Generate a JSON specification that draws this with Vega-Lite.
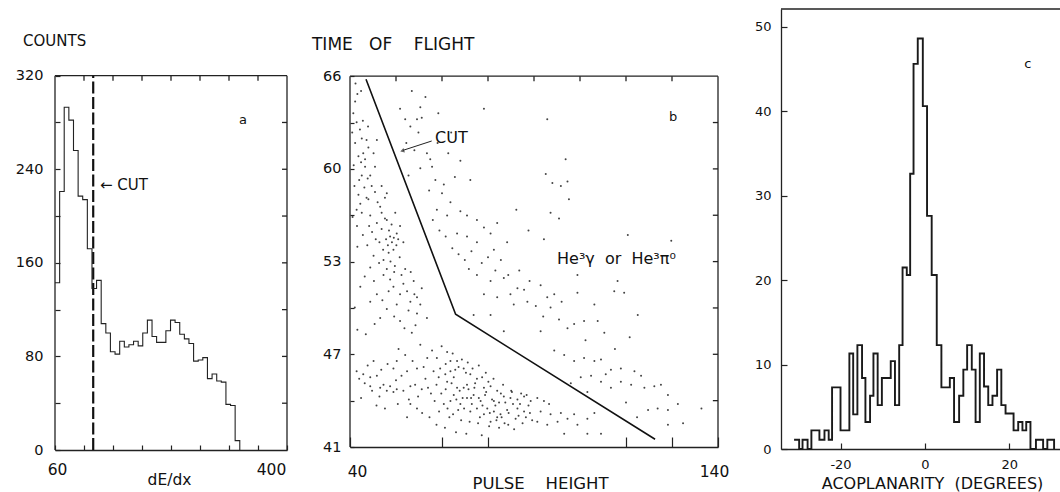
{
  "$schema": "https://vega.github.io/schema/vega-lite/v6.json",
  "background": "white",
  "padding": {"left": 15, "top": 8, "right": 0, "bottom": 0},
  "bounds": "flush",
  "spacing": 63,
  "config": {
    "view": {"stroke": null},
    "font": "DejaVu Sans",
    "axis": {"grid": false, "domainColor": "#222", "domainWidth": 1.3, "tickColor": "#222", "tickWidth": 1.2, "labelColor": "#111", "titleColor": "#111", "labelFont": "DejaVu Sans", "titleFont": "DejaVu Sans", "titleFontWeight": "normal", "labelOverlap": false, "labelFlush": false}
  },
  "hconcat": [
    {
      "width": 232,
      "height": 441,
      "encoding": {
        "x": {"field": "x", "type": "quantitative", "scale": {"domain": [60, 400], "nice": false, "zero": false},
          "axis": {"values": [60, 102.5, 145, 187.5, 230, 272.5, 315, 357.5, 400], "labelExpr": "datum.value == 60 || datum.value == 400 ? datum.label : ''", "tickSize": -5, "labelPadding": 29, "labelBaseline": "alphabetic", "labelFontSize": 15.5, "labelOffset": {"condition": {"test": "datum.value == 400", "value": -16}, "value": 2}, "title": "dE/dx", "titleFontSize": 15.5, "titleX": 114, "titleY": 34, "titleBaseline": "alphabetic"}},
        "y": {"field": "y", "type": "quantitative", "scale": {"domain": [0, 377], "nice": false, "zero": false},
          "axis": {"values": [0, 40, 80, 120, 160, 200, 240, 280, 320], "labelExpr": "datum.value % 80 == 0 ? datum.label : ''", "domain": false, "tickSize": -5, "labelPadding": 17, "labelFontSize": 14.5, "title": null}}
      },
      "layer": [
        {
          "data": {"values": [
            {"x": 60, "y": 0, "x2": 60, "y2": 320},
            {"x": 400, "y": 0, "x2": 400, "y2": 320},
            {"x": 60, "y": 320, "x2": 400, "y2": 320},
            {"x": 102.5, "y": 320, "x2": 102.5, "y2": 315.7},
            {"x": 145, "y": 320, "x2": 145, "y2": 315.7},
            {"x": 187.5, "y": 320, "x2": 187.5, "y2": 315.7},
            {"x": 230, "y": 320, "x2": 230, "y2": 315.7},
            {"x": 272.5, "y": 320, "x2": 272.5, "y2": 315.7},
            {"x": 315, "y": 320, "x2": 315, "y2": 315.7},
            {"x": 357.5, "y": 320, "x2": 357.5, "y2": 315.7},
            {"x": 392.7, "y": 40, "x2": 400, "y2": 40},
            {"x": 392.7, "y": 80, "x2": 400, "y2": 80},
            {"x": 392.7, "y": 120, "x2": 400, "y2": 120},
            {"x": 392.7, "y": 160, "x2": 400, "y2": 160},
            {"x": 392.7, "y": 200, "x2": 400, "y2": 200},
            {"x": 392.7, "y": 240, "x2": 400, "y2": 240},
            {"x": 392.7, "y": 280, "x2": 400, "y2": 280}
          ]},
          "mark": {"type": "rule", "color": "#222", "strokeWidth": 1.3},
          "encoding": {"x2": {"field": "x2"}, "y2": {"field": "y2"}}
        },
        {
          "data": {"values": [{"x": 116, "y": 0, "x2": 116, "y2": 320}]},
          "mark": {"type": "rule", "color": "#111", "strokeWidth": 2.2, "strokeDash": [12, 3.5]},
          "encoding": {"x2": {"field": "x2"}, "y2": {"field": "y2"}}
        },
        {
          "data": {"values": [
            {"x": 60, "y": 143}, {"x": 66.8, "y": 221}, {"x": 73.5, "y": 293}, {"x": 80.3, "y": 282},
            {"x": 87.1, "y": 256}, {"x": 93.9, "y": 217}, {"x": 100.6, "y": 214}, {"x": 107.4, "y": 172},
            {"x": 114.2, "y": 138}, {"x": 120.9, "y": 145}, {"x": 127.7, "y": 108}, {"x": 134.5, "y": 100},
            {"x": 141.2, "y": 84}, {"x": 148, "y": 82}, {"x": 154.8, "y": 93}, {"x": 161.6, "y": 88},
            {"x": 168.3, "y": 90}, {"x": 175.1, "y": 93}, {"x": 181.9, "y": 89}, {"x": 188.6, "y": 100},
            {"x": 195.4, "y": 111}, {"x": 202.2, "y": 97}, {"x": 208.9, "y": 92}, {"x": 215.7, "y": 92},
            {"x": 222.5, "y": 102}, {"x": 229.3, "y": 111}, {"x": 236, "y": 109}, {"x": 242.8, "y": 99},
            {"x": 249.6, "y": 95}, {"x": 256.3, "y": 91}, {"x": 263.1, "y": 76}, {"x": 269.9, "y": 77},
            {"x": 276.6, "y": 79}, {"x": 283.4, "y": 61}, {"x": 290.2, "y": 65}, {"x": 297, "y": 59},
            {"x": 303.7, "y": 58}, {"x": 310.5, "y": 39}, {"x": 317.3, "y": 38}, {"x": 324, "y": 8},
            {"x": 330.8, "y": 0}
          ]},
          "mark": {"type": "line", "interpolate": "step-after", "color": "#222", "strokeWidth": 1.1}
        },
        {
          "data": {"values": [{"x": 125.9, "y": 222.5, "text": "← CUT"}, {"x": 13.1, "y": 345, "text": "COUNTS"}]},
          "mark": {"type": "text", "align": "left", "baseline": "alphabetic", "fontSize": 15, "color": "#111"},
          "encoding": {"text": {"field": "text"}}
        },
        {
          "data": {"values": [{"x": 335.5, "y": 278.7, "text": "a"}]},
          "mark": {"type": "text", "align": "center", "baseline": "alphabetic", "fontSize": 13, "color": "#111"},
          "encoding": {"text": {"field": "text"}}
        }
      ]
    },
    {
      "width": 368,
      "height": 438,
      "encoding": {
        "x": {"field": "x", "type": "quantitative", "scale": {"domain": [40, 140], "nice": false, "zero": false},
          "axis": {"values": [40, 65, 77.5, 115, 127.5, 140], "labelExpr": "datum.value == 40 || datum.value == 140 ? datum.label : ''", "tickSize": -10, "labelPadding": 39, "labelBaseline": "alphabetic", "labelFontSize": 15.5, "labelOffset": {"condition": {"test": "datum.value == 140", "value": -4}, "value": 7}, "title": "PULSE\u00a0\u00a0\u00a0 HEIGHT", "titleFontSize": 16.5, "titleX": 190, "titleY": 41, "titleBaseline": "alphabetic"}},
        "y": {"field": "y", "type": "quantitative", "scale": {"domain": [41, 70.53], "nice": false, "zero": false},
          "axis": {"values": [41, 44.125, 47.25, 50.375, 53.5, 56.625, 59.75, 62.875, 66], "labelExpr": "datum.value == 41 ? '41' : datum.value == 47.25 ? '47' : datum.value == 53.5 ? '53' : datum.value == 59.75 ? '60' : datum.value == 66 ? '66' : ''", "domain": false, "tickSize": -4, "labelPadding": 13, "labelFontSize": 14.5, "title": null}}
      },
      "layer": [
        {
          "data": {"values": [
            {"x": 40, "y": 41, "x2": 40, "y2": 66},
            {"x": 140, "y": 41, "x2": 140, "y2": 66},
            {"x": 40, "y": 66, "x2": 140, "y2": 66},
            {"x": 52.5, "y": 66, "x2": 52.5, "y2": 65.66},
            {"x": 65, "y": 66, "x2": 65, "y2": 65.66},
            {"x": 77.5, "y": 66, "x2": 77.5, "y2": 65.66},
            {"x": 90, "y": 66, "x2": 90, "y2": 65.66},
            {"x": 102.5, "y": 66, "x2": 102.5, "y2": 65.66},
            {"x": 115, "y": 66, "x2": 115, "y2": 65.66},
            {"x": 127.5, "y": 66, "x2": 127.5, "y2": 65.66},
            {"x": 138.6, "y": 44.125, "x2": 140, "y2": 44.125},
            {"x": 138.6, "y": 47.25, "x2": 140, "y2": 47.25},
            {"x": 138.6, "y": 50.375, "x2": 140, "y2": 50.375},
            {"x": 138.6, "y": 53.5, "x2": 140, "y2": 53.5},
            {"x": 138.6, "y": 56.625, "x2": 140, "y2": 56.625},
            {"x": 138.6, "y": 59.75, "x2": 140, "y2": 59.75},
            {"x": 138.6, "y": 62.875, "x2": 140, "y2": 62.875}
          ]},
          "mark": {"type": "rule", "color": "#222", "strokeWidth": 1.3},
          "encoding": {"x2": {"field": "x2"}, "y2": {"field": "y2"}}
        },
        {
          "data": {"values": [
            {"x":41.4,"y":64.3},{"x":41.8,"y":62.9},{"x":43.2,"y":61.8},{"x":43.6,"y":60.8},{"x":44.1,"y":60.4},{"x":45.5,"y":59.3},{"x":45.9,"y":58.6},{"x":46.8,"y":58.2},{"x":43.2,"y":59.3},{"x":42.3,"y":58.0},{"x":41.8,"y":57.0},{"x":43.2,"y":56.8},{"x":45.5,"y":56.6},{"x":47.3,"y":56.1},{"x":48.6,"y":56.8},{"x":50.0,"y":56.3},{"x":50.9,"y":55.2},{"x":51.4,"y":54.8},{"x":51.8,"y":54.3},{"x":50.5,"y":54.1},{"x":49.1,"y":53.6},{"x":46.4,"y":53.9},{"x":52.7,"y":55.4},{"x":52.3,"y":56.8},{"x":53.6,"y":55.9},{"x":54.5,"y":54.8},{"x":48.2,"y":57.2},{"x":44.1,"y":59.9},{"x":46.8,"y":59.9},{"x":44.5,"y":61.7},{"x":47.3,"y":61.7},{"x":42.3,"y":60.6},{"x":46.4,"y":60.8},{"x":48.6,"y":58.6},{"x":50.0,"y":58.1},{"x":45.0,"y":57.7},{"x":40.9,"y":63.5},{"x":42.7,"y":62.4},{"x":41.4,"y":61.5},{"x":45.0,"y":61.2},{"x":42.0,"y":64.8},{"x":43.5,"y":63.0},{"x":41.0,"y":60.0},{"x":42.5,"y":59.0},{"x":44.5,"y":57.8},{"x":47.5,"y":57.5},{"x":49.5,"y":57.8},{"x":46.0,"y":55.5},{"x":48.0,"y":54.8},{"x":49.8,"y":55.0},{"x":51.0,"y":53.5},{"x":52.2,"y":53.2},{"x":53.5,"y":53.8},{"x":55.0,"y":53.0},{"x":54.0,"y":52.6},{"x":56.5,"y":52.8},{"x":57.5,"y":51.3},{"x":52.0,"y":52.8},{"x":50.0,"y":53.0},
            {"x":40.6,"y":62.2},{"x":41.2,"y":58.6},{"x":41.9,"y":55.9},{"x":42.8,"y":57.4},{"x":43.9,"y":58.5},{"x":44.8,"y":59.1},{"x":43.0,"y":60.2},{"x":44.9,"y":62.6},{"x":41.5,"y":65.5},{"x":43.0,"y":65.0},{"x":40.7,"y":56.5},{"x":42.0,"y":54.5},{"x":43.5,"y":55.3},{"x":44.7,"y":54.6},{"x":45.2,"y":55.9},{"x":47.0,"y":55.0},{"x":47.9,"y":53.4},{"x":48.6,"y":55.7},{"x":49.5,"y":56.4},{"x":50.6,"y":55.6},{"x":51.3,"y":56.0},{"x":52.6,"y":54.6},{"x":53.1,"y":55.0},{"x":51.9,"y":55.1},{"x":50.3,"y":54.6},{"x":49.0,"y":54.3},{"x":44.0,"y":52.5},{"x":42.8,"y":51.8},{"x":46.5,"y":52.2},{"x":45.5,"y":50.8},{"x":48.8,"y":50.9},{"x":50.5,"y":51.5},{"x":50.0,"y":50.3},{"x":52.0,"y":49.8},{"x":54.8,"y":49.0},{"x":57.8,"y":49.2},{"x":46.7,"y":49.3},{"x":44.3,"y":48.6},{"x":42.0,"y":48.9},{"x":41.3,"y":50.4},
            {"x":53.6,"y":63.8},{"x":55.0,"y":63.1},{"x":59.1,"y":63.9},{"x":56.4,"y":62.6},{"x":58.6,"y":62.2},{"x":58.2,"y":63.1},{"x":59.5,"y":63.2},{"x":60.9,"y":60.8},{"x":62.3,"y":59.9},{"x":59.1,"y":59.8},{"x":55.9,"y":59.3},{"x":63.2,"y":59.0},{"x":65.5,"y":58.7},{"x":67.3,"y":57.5},{"x":70.0,"y":56.9},{"x":71.8,"y":56.6},{"x":74.5,"y":56.3},{"x":76.4,"y":55.8},{"x":78.2,"y":55.4},{"x":79.1,"y":54.3},{"x":74.5,"y":54.8},{"x":71.8,"y":55.2},{"x":66.4,"y":56.6},{"x":63.6,"y":57.0},{"x":69.1,"y":55.4},{"x":80.0,"y":56.1},{"x":82.7,"y":54.8},{"x":76.4,"y":63.8},{"x":61.8,"y":60.4},{"x":70.0,"y":60.3},{"x":72.7,"y":59.0},{"x":65.0,"y":58.1},{"x":56.8,"y":65.0},
            {"x":62.5,"y":56.3},{"x":64.3,"y":55.6},{"x":66.0,"y":55.2},{"x":67.8,"y":54.4},{"x":69.5,"y":54.0},{"x":71.2,"y":53.6},{"x":73.0,"y":54.2},{"x":75.8,"y":53.4},{"x":77.5,"y":53.8},{"x":79.5,"y":52.9},{"x":81.0,"y":53.6},{"x":83.0,"y":52.6},{"x":86.0,"y":52.9},{"x":88.8,"y":52.2},{"x":90.5,"y":50.5},{"x":92.5,"y":49.8},{"x":94.5,"y":50.4},{"x":97.5,"y":50.8},{"x":61.5,"y":58.3},{"x":63.8,"y":61.5},{"x":66.7,"y":60.8},{"x":68.5,"y":59.2},{"x":57.5,"y":61.0},{"x":55.3,"y":61.5},{"x":60.5,"y":64.6},{"x":64.0,"y":63.5},{"x":67.5,"y":62.2},{"x":85.2,"y":57.0},{"x":88.5,"y":55.6},
            {"x":93.6,"y":63.1},{"x":93.2,"y":59.4},{"x":95.0,"y":58.8},{"x":97.3,"y":58.6},{"x":99.1,"y":58.9},{"x":99.5,"y":57.7},{"x":94.5,"y":56.8},{"x":96.8,"y":56.4},{"x":92.7,"y":55.0},{"x":115.5,"y":55.3},{"x":127.3,"y":54.9},{"x":98.6,"y":60.4},
            {"x":50.9,"y":52.3},{"x":53.6,"y":51.3},{"x":55.5,"y":51.5},{"x":56.4,"y":50.8},{"x":58.2,"y":51.1},{"x":59.1,"y":50.6},{"x":55.9,"y":50.2},{"x":58.2,"y":50.0},{"x":59.5,"y":51.7},{"x":51.8,"y":51.8},{"x":54.5,"y":52.0},{"x":49.1,"y":52.6},{"x":57.3,"y":52.2},{"x":52.7,"y":50.6},{"x":60.9,"y":49.7},{"x":56.8,"y":48.7},{"x":53.6,"y":49.5},{"x":45.5,"y":53.1},{"x":48.2,"y":49.7},{"x":47.3,"y":51.3},
            {"x":62.3,"y":47.5},{"x":63.6,"y":47.0},{"x":66.4,"y":47.4},{"x":67.3,"y":46.8},{"x":69.1,"y":46.8},{"x":64.5,"y":46.3},{"x":67.3,"y":46.1},{"x":70.9,"y":46.3},{"x":72.7,"y":45.9},{"x":74.5,"y":45.6},{"x":71.8,"y":45.2},{"x":69.1,"y":45.0},{"x":66.4,"y":45.4},{"x":64.1,"y":45.7},{"x":76.4,"y":45.0},{"x":78.2,"y":45.1},{"x":80.0,"y":44.8},{"x":81.8,"y":44.4},{"x":83.6,"y":44.3},{"x":85.5,"y":44.2},{"x":87.3,"y":44.4},{"x":89.1,"y":44.1},{"x":73.6,"y":44.5},{"x":75.5,"y":44.1},{"x":77.3,"y":43.6},{"x":79.1,"y":43.4},{"x":80.9,"y":43.2},{"x":82.7,"y":43.5},{"x":85.5,"y":43.6},{"x":87.3,"y":43.4},{"x":71.8,"y":44.3},{"x":70.0,"y":43.9},{"x":67.3,"y":44.1},{"x":65.5,"y":43.9},{"x":68.2,"y":44.5},{"x":74.5,"y":43.6},{"x":76.4,"y":43.2},{"x":78.2,"y":42.7},{"x":80.0,"y":43.0},{"x":72.7,"y":43.4},{"x":70.9,"y":45.0},{"x":68.2,"y":45.7},{"x":75.9,"y":45.7},{"x":79.1,"y":44.1},{"x":62.7,"y":46.1},
            {"x":61.2,"y":45.0},{"x":63.0,"y":44.1},{"x":64.2,"y":43.4},{"x":65.9,"y":45.9},{"x":67.0,"y":43.0},{"x":68.6,"y":46.2},{"x":69.4,"y":43.5},{"x":70.6,"y":44.3},{"x":71.5,"y":46.0},{"x":72.9,"y":44.3},{"x":73.8,"y":45.0},{"x":75.3,"y":43.0},{"x":76.7,"y":44.5},{"x":77.6,"y":45.4},{"x":78.6,"y":44.2},{"x":79.8,"y":42.8},{"x":81.0,"y":44.6},{"x":82.0,"y":42.6},{"x":83.8,"y":44.8},{"x":85.8,"y":43.1},{"x":86.9,"y":42.6},{"x":88.9,"y":43.3},{"x":84.6,"y":42.2},{"x":81.6,"y":45.2},{"x":79.0,"y":45.6},{"x":76.9,"y":46.0},{"x":73.3,"y":46.3},{"x":70.4,"y":46.9},{"x":67.9,"y":47.3},{"x":64.9,"y":47.8},{"x":61.0,"y":47.0},{"x":60.0,"y":46.4},{"x":57.0,"y":46.8},{"x":55.0,"y":47.2},{"x":53.2,"y":47.6},{"x":50.2,"y":46.6},{"x":48.5,"y":46.2},{"x":44.8,"y":46.5},{"x":43.0,"y":44.3},{"x":47.2,"y":43.8},{"x":49.5,"y":43.6},{"x":53.0,"y":43.9},{"x":55.5,"y":43.0},{"x":59.6,"y":43.3},{"x":61.6,"y":43.0},{"x":63.5,"y":42.5},{"x":65.8,"y":42.3},{"x":68.8,"y":42.0},{"x":71.6,"y":41.9},{"x":75.8,"y":41.8},
            {"x":41.8,"y":46.1},{"x":43.6,"y":45.9},{"x":45.5,"y":45.7},{"x":47.3,"y":45.8},{"x":49.1,"y":45.2},{"x":50.9,"y":45.1},{"x":52.7,"y":44.9},{"x":50.0,"y":44.8},{"x":51.8,"y":44.7},{"x":54.5,"y":44.8},{"x":56.4,"y":45.1},{"x":57.7,"y":45.2},{"x":59.5,"y":44.9},{"x":48.2,"y":45.0},{"x":45.5,"y":45.1},{"x":51.8,"y":46.3},{"x":55.5,"y":46.1},{"x":58.2,"y":46.3},{"x":59.1,"y":47.9},{"x":56.4,"y":43.9},{"x":58.2,"y":43.6},{"x":46.4,"y":46.8},{"x":52.7,"y":46.8},
            {"x":72.3,"y":53.0},{"x":74.5,"y":52.6},{"x":78.2,"y":52.2},{"x":81.8,"y":52.4},{"x":85.5,"y":51.7},{"x":87.3,"y":51.6},{"x":83.6,"y":51.3},{"x":80.0,"y":51.1},{"x":84.5,"y":50.6},{"x":76.4,"y":51.3},{"x":73.6,"y":49.9},{"x":78.2,"y":49.9},{"x":88.2,"y":50.8},{"x":81.8,"y":48.8},
            {"x":91.8,"y":51.9},{"x":93.6,"y":51.1},{"x":95.5,"y":51.3},{"x":96.8,"y":49.6},{"x":99.1,"y":49.0},{"x":100.9,"y":49.3},{"x":103.6,"y":49.5},{"x":101.8,"y":51.4},{"x":106.4,"y":50.6},{"x":107.3,"y":49.5},{"x":109.1,"y":48.7},{"x":111.8,"y":51.5},{"x":114.5,"y":51.4},{"x":118.2,"y":49.9},{"x":95.5,"y":47.5},{"x":98.2,"y":47.2},{"x":100.9,"y":46.8},{"x":103.6,"y":47.0},{"x":106.4,"y":46.8},{"x":108.2,"y":46.9},{"x":110.9,"y":46.2},{"x":113.6,"y":46.3},{"x":117.3,"y":46.1},{"x":119.1,"y":45.8},{"x":113.6,"y":45.4},{"x":116.4,"y":45.2},{"x":120.0,"y":45.0},{"x":122.7,"y":45.1},{"x":124.5,"y":45.2},{"x":126.4,"y":44.5},{"x":123.6,"y":43.6},{"x":126.4,"y":43.5},{"x":129.1,"y":43.9},{"x":135.5,"y":43.6},{"x":110.9,"y":45.0},{"x":108.2,"y":45.4},{"x":105.5,"y":45.8},{"x":102.7,"y":45.7},{"x":109.5,"y":45.9},{"x":112.7,"y":52.2},{"x":101.8,"y":52.6},{"x":91.8,"y":48.8},
            {"x":104.5,"y":44.7},{"x":115.0,"y":44.0},{"x":118.0,"y":43.0},{"x":121.0,"y":43.5},{"x":130.5,"y":42.6},{"x":112.0,"y":47.6},{"x":116.0,"y":48.4},{"x":104.0,"y":48.2},{"x":100.0,"y":45.3},
            {"x":90.9,"y":44.3},{"x":92.7,"y":44.1},{"x":94.1,"y":43.9},{"x":91.8,"y":43.4},{"x":94.5,"y":43.2},{"x":97.3,"y":43.3},{"x":99.1,"y":42.9},{"x":100.9,"y":43.2},{"x":90.9,"y":42.7},{"x":93.6,"y":42.5},{"x":96.4,"y":42.7},{"x":101.8,"y":42.5},{"x":104.5,"y":42.9},{"x":106.4,"y":43.3},{"x":108.2,"y":41.9},{"x":98.2,"y":41.9},{"x":104.5,"y":41.9},{"x":126.4,"y":42.5},
            {"x":63.5,"y":45.2},{"x":64.8,"y":44.6},{"x":66.0,"y":44.9},{"x":67.6,"y":45.3},{"x":68.9,"y":44.2},{"x":69.8,"y":44.8},{"x":71.0,"y":43.6},{"x":72.2,"y":44.9},{"x":73.1,"y":43.9},{"x":74.0,"y":45.3},{"x":75.0,"y":44.3},{"x":76.0,"y":43.8},{"x":77.0,"y":44.7},{"x":78.0,"y":43.3},{"x":79.5,"y":43.8},{"x":80.5,"y":44.0},{"x":81.2,"y":43.0},{"x":82.2,"y":44.0},{"x":83.1,"y":43.3},{"x":84.3,"y":43.9},{"x":85.0,"y":42.9},{"x":86.2,"y":43.9},{"x":87.8,"y":43.0},{"x":88.5,"y":43.8},{"x":89.5,"y":42.8},{"x":84.0,"y":44.7},{"x":86.5,"y":44.6},{"x":88.0,"y":44.5},{"x":66.5,"y":43.6},{"x":68.0,"y":43.2},{"x":70.2,"y":42.8},{"x":72.5,"y":42.7},{"x":74.8,"y":42.6},{"x":77.8,"y":42.4},{"x":80.5,"y":42.3},{"x":83.0,"y":42.5},{"x":66.0,"y":46.6},{"x":69.5,"y":46.4},{"x":72.0,"y":46.7},{"x":75.0,"y":46.5},{"x":62.0,"y":44.6},{"x":60.5,"y":45.6},{"x":58.5,"y":44.4},{"x":56.0,"y":44.2},{"x":54.0,"y":45.8},{"x":52.5,"y":45.5},{"x":48.0,"y":44.4},{"x":46.0,"y":44.8},{"x":44.0,"y":45.3},{"x":42.5,"y":45.6}
          ]},
          "mark": {"type": "point", "filled": true, "size": 4, "color": "#222", "opacity": 0.85}
        },
        {
          "data": {"values": [{"x": 44.35, "y": 65.79}, {"x": 68.7, "y": 49.95}, {"x": 122.9, "y": 41.52}]},
          "mark": {"type": "line", "color": "#111", "strokeWidth": 1.6}
        },
        {
          "data": {"values": [{"x": 62.2, "y": 61.63, "x2": 54.4, "y2": 61.0}]},
          "mark": {"type": "rule", "color": "#222", "strokeWidth": 1},
          "encoding": {"x2": {"field": "x2"}, "y2": {"field": "y2"}}
        },
        {
          "data": {"values": [{"x": 54.2, "y": 60.97}]},
          "mark": {"type": "point", "shape": "triangle-up", "filled": true, "size": 22, "angle": 251.6, "color": "#222"}
        },
        {
          "data": {"values": [{"x": 63.1, "y": 61.52, "text": "CUT"}]},
          "mark": {"type": "text", "align": "left", "baseline": "alphabetic", "fontSize": 16, "color": "#111"},
          "encoding": {"text": {"field": "text"}}
        },
        {
          "data": {"values": [{"x": 29.67, "y": 67.77, "text": "TIME\u00a0\u00a0 OF\u00a0\u00a0\u00a0 FLIGHT"}]},
          "mark": {"type": "text", "align": "left", "baseline": "alphabetic", "fontSize": 17, "color": "#111"},
          "encoding": {"text": {"field": "text"}}
        },
        {
          "data": {"values": [{"x": 112.4, "y": 53.32, "text": "He³γ\u00a0 or\u00a0 He³π⁰"}]},
          "mark": {"type": "text", "align": "center", "baseline": "alphabetic", "fontSize": 16, "color": "#111"},
          "encoding": {"text": {"field": "text"}}
        },
        {
          "data": {"values": [{"x": 127.8, "y": 62.98, "text": "b"}]},
          "mark": {"type": "text", "align": "center", "baseline": "alphabetic", "fontSize": 13, "color": "#111"},
          "encoding": {"text": {"field": "text"}}
        }
      ]
    },
    {
      "width": 279,
      "height": 440,
      "encoding": {
        "x": {"field": "x", "type": "quantitative", "scale": {"domain": [-34.1, 32], "nice": false, "zero": false},
          "axis": {"values": [-20, 0, 20], "labelExpr": "toString(datum.value)", "tickSize": -6, "labelPadding": 25, "labelBaseline": "alphabetic", "labelFontSize": 13, "title": "ACOPLANARITY\u00a0 (DEGREES)", "titleFontSize": 16, "titleX": 151, "titleY": 39, "titleBaseline": "alphabetic"}},
        "y": {"field": "y", "type": "quantitative", "scale": {"domain": [0, 52.1], "nice": false, "zero": false},
          "axis": {"values": [0, 10, 20, 30, 40, 50], "tickSize": -6, "labelPadding": 16, "labelFontSize": 13, "title": null}}
      },
      "layer": [
        {
          "data": {"values": [{"x": -34.1, "y": 52.1, "x2": 32, "y2": 52.1}]},
          "mark": {"type": "rule", "color": "#222", "strokeWidth": 1.3},
          "encoding": {"x2": {"field": "x2"}, "y2": {"field": "y2"}}
        },
        {
          "data": {"values": [
            {"x": -31, "y": 1.1}, {"x": -29.8, "y": 0}, {"x": -29, "y": 1.1}, {"x": -27.8, "y": 0},
            {"x": -26.9, "y": 2.2}, {"x": -25, "y": 1.1}, {"x": -23.8, "y": 2.2}, {"x": -22.8, "y": 1.1},
            {"x": -22, "y": 7.3}, {"x": -20, "y": 2.2}, {"x": -17.9, "y": 11.3}, {"x": -17, "y": 4.1},
            {"x": -16, "y": 12.3}, {"x": -14.9, "y": 8.4}, {"x": -14.1, "y": 3.2}, {"x": -13, "y": 6.3},
            {"x": -12.2, "y": 11.3}, {"x": -11.2, "y": 5.2}, {"x": -10.2, "y": 8.4}, {"x": -8.1, "y": 10.4},
            {"x": -7.1, "y": 5.2}, {"x": -6.1, "y": 12.3}, {"x": -5.3, "y": 21.5}, {"x": -4.3, "y": 20.6},
            {"x": -3.5, "y": 32.6}, {"x": -2.7, "y": 45.6}, {"x": -1.7, "y": 48.6}, {"x": -0.5, "y": 40.6},
            {"x": 0.5, "y": 27.6}, {"x": 1.6, "y": 20.6}, {"x": 2.8, "y": 12.3}, {"x": 3.9, "y": 7.3},
            {"x": 5.9, "y": 8.4}, {"x": 6.9, "y": 3.2}, {"x": 8.1, "y": 6.3}, {"x": 9.1, "y": 9.4},
            {"x": 10, "y": 12.3}, {"x": 11.1, "y": 9.4}, {"x": 12, "y": 3.2}, {"x": 13, "y": 11.3},
            {"x": 14, "y": 7.4}, {"x": 15, "y": 5.2}, {"x": 16, "y": 6.3}, {"x": 17.1, "y": 9.4},
            {"x": 18.1, "y": 5.2}, {"x": 19.1, "y": 4.2}, {"x": 21, "y": 2.2}, {"x": 22.1, "y": 3.2},
            {"x": 23.1, "y": 2.2}, {"x": 24, "y": 3.2}, {"x": 25, "y": 0}, {"x": 26.3, "y": 1.1},
            {"x": 28, "y": 0}, {"x": 29, "y": 1.1}, {"x": 30.6, "y": 0}
          ]},
          "mark": {"type": "line", "interpolate": "step-after", "color": "#1a1a1a", "strokeWidth": 1.9}
        },
        {
          "data": {"values": [{"x": 24.4, "y": 45.1, "text": "c"}]},
          "mark": {"type": "text", "align": "center", "baseline": "alphabetic", "fontSize": 13, "color": "#111"},
          "encoding": {"text": {"field": "text"}}
        }
      ]
    }
  ]
}
